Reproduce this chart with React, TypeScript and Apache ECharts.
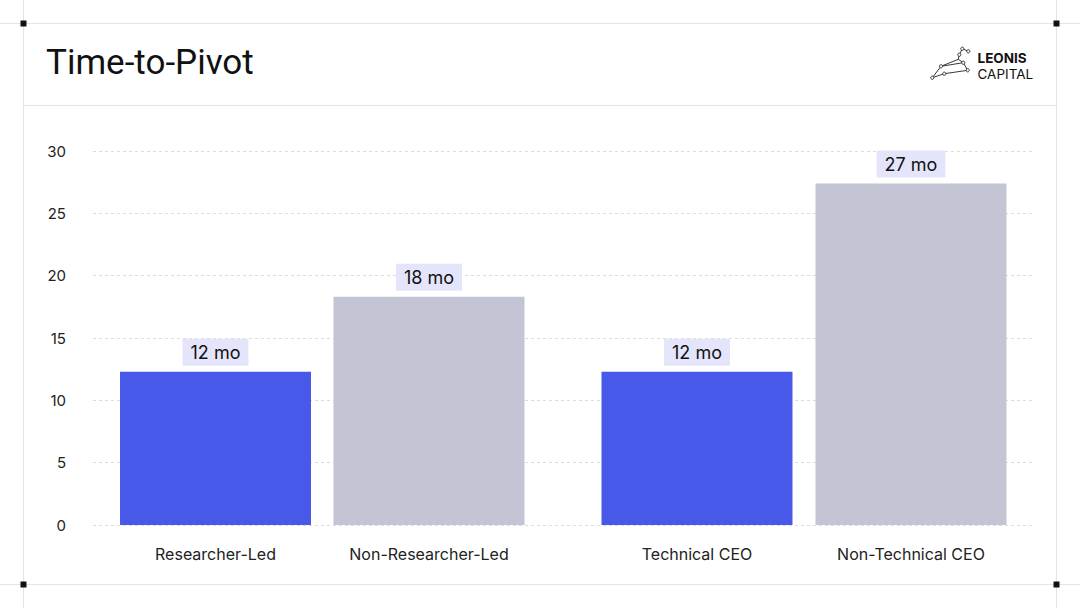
import React, { useEffect, useRef } from "react";
import * as echarts from "echarts";

const leftCategories = ["Researcher-Led", "Non-Researcher-Led"];
const rightCategories = ["Technical CEO", "Non-Technical CEO"];
const leftValues = [12.3, 18.3];
const rightValues = [12.3, 27.4];
const leftLabels = ["12 mo", "18 mo"];
const rightLabels = ["12 mo", "27 mo"];
const barColors = ["#4858E9", "#C3C5D4"];
const yTicks = { min: 0, max: 30, interval: 5 };

const FONT = "Inter, 'Noto Sans', sans-serif";

export default function App() {
  const ref = useRef<HTMLDivElement>(null);
  useEffect(() => {
    document.body.style.margin = "0";
    const chart = echarts.init(ref.current!, undefined, { renderer: "svg" });

    const mkSeries = (idx: number, values: number[], labels: string[]) => ({
      type: "bar",
      xAxisIndex: idx,
      yAxisIndex: idx,
      barWidth: 191,
      data: values.map((v, i) => ({
        value: v,
        itemStyle: { color: barColors[i] },
        label: { formatter: labels[i] },
      })),
      label: {
        show: true,
        position: "top",
        distance: 6,
        fontFamily: FONT,
        fontSize: 18,
        color: "#111",
        backgroundColor: "#E4E5FB",
        padding: [5, 8, 4, 8],
      },
    });

    const lineStyle = { stroke: "#E4E4E4", lineWidth: 1 };
    const sq = (x: number, y: number) => ({
      type: "rect",
      shape: { x: x - 3, y: y - 3, width: 6, height: 6 },
      style: { fill: "#111" },
      z: 10,
    });

    const A = [962.3, 48.7], B = [968.3, 51.3], C = [959.3, 54.7], D = [958.3, 59.3],
      E = [963.3, 62.7], F = [941, 66.3], G = [967.7, 70.3], H = [944.3, 73.7], I = [932.3, 77.7];
    const logoLine = (pts: number[][]) => ({
      type: "polyline",
      shape: { points: pts },
      style: { stroke: "#222", lineWidth: 0.9, fill: null },
    });
    const star = (p: number[]) => ({
      type: "circle",
      shape: { cx: p[0], cy: p[1], r: 1.6 },
      style: { fill: "#fff", stroke: "#222", lineWidth: 0.9 },
    });

    const catLabel = { fontFamily: FONT, fontSize: 16, color: "#222", margin: 21 };

    chart.setOption({
      animation: false,
      backgroundColor: "#fff",
      grid: [
        { left: 93, right: 47, top: 151, bottom: 83 },
        { left: 108.75, right: 544.25, top: 151, bottom: 83 },
        { left: 590, right: 62, top: 151, bottom: 83 },
      ],
      xAxis: [
        { type: "category", gridIndex: 0, data: ["a"], show: false },
        {
          type: "category",
          gridIndex: 1,
          data: leftCategories,
          axisLine: { show: false },
          axisTick: { show: false },
          axisLabel: catLabel,
        },
        {
          type: "category",
          gridIndex: 2,
          data: rightCategories,
          axisLine: { show: false },
          axisTick: { show: false },
          axisLabel: catLabel,
        },
      ],
      yAxis: [
        {
          type: "value",
          gridIndex: 0,
          ...yTicks,
          axisLine: { show: false },
          axisTick: { show: false },
          axisLabel: { fontFamily: FONT, fontSize: 15, color: "#222", margin: 27 },
          splitLine: { lineStyle: { type: [3, 3], color: "#DCDCDC", width: 1 } },
        },
        { type: "value", gridIndex: 1, ...yTicks, show: false, splitLine: { show: false } },
        { type: "value", gridIndex: 2, ...yTicks, show: false, splitLine: { show: false } },
      ],
      series: [mkSeries(1, leftValues, leftLabels), mkSeries(2, rightValues, rightLabels)],
      graphic: [
        { type: "line", shape: { x1: 23.5, y1: 0, x2: 23.5, y2: 608 }, style: lineStyle },
        { type: "line", shape: { x1: 1056.5, y1: 0, x2: 1056.5, y2: 608 }, style: lineStyle },
        { type: "line", shape: { x1: 0, y1: 23.5, x2: 1080, y2: 23.5 }, style: lineStyle },
        { type: "line", shape: { x1: 23.5, y1: 105.5, x2: 1056.5, y2: 105.5 }, style: lineStyle },
        { type: "line", shape: { x1: 0, y1: 584.5, x2: 1080, y2: 584.5 }, style: lineStyle },
        sq(23.5, 23.5),
        sq(1056.5, 23.5),
        sq(23.5, 584.5),
        sq(1056.5, 584.5),
        {
          type: "text",
          x: 46,
          y: 62,
          style: {
            text: "Time-to-Pivot",
            fontFamily: "Roboto, Inter, sans-serif",
            fontSize: 35,
            fill: "#111",
            verticalAlign: "middle",
          },
        },
        {
          type: "text",
          x: 977.5,
          y: 57.5,
          style: {
            text: "LEONIS",
            fontFamily: FONT,
            fontSize: 13.5,
            fontWeight: "bold",
            fill: "#111",
            verticalAlign: "middle",
          },
        },
        {
          type: "text",
          x: 977.5,
          y: 73.5,
          style: {
            text: "CAPITAL",
            fontFamily: FONT,
            fontSize: 13.5,
            fill: "#111",
            verticalAlign: "middle",
          },
        },
        logoLine([A, B]),
        logoLine([A, C, D, E, G, H, I, F, D]),
        logoLine([F, E]),
        star(A),
        star(B),
        star(C),
        star(E),
        star(F),
        star(G),
        star(H),
        star(I),
      ],
    });
    return () => chart.dispose();
  }, []);
  return <div ref={ref} style={{ width: 1080, height: 608 }} />;
}
